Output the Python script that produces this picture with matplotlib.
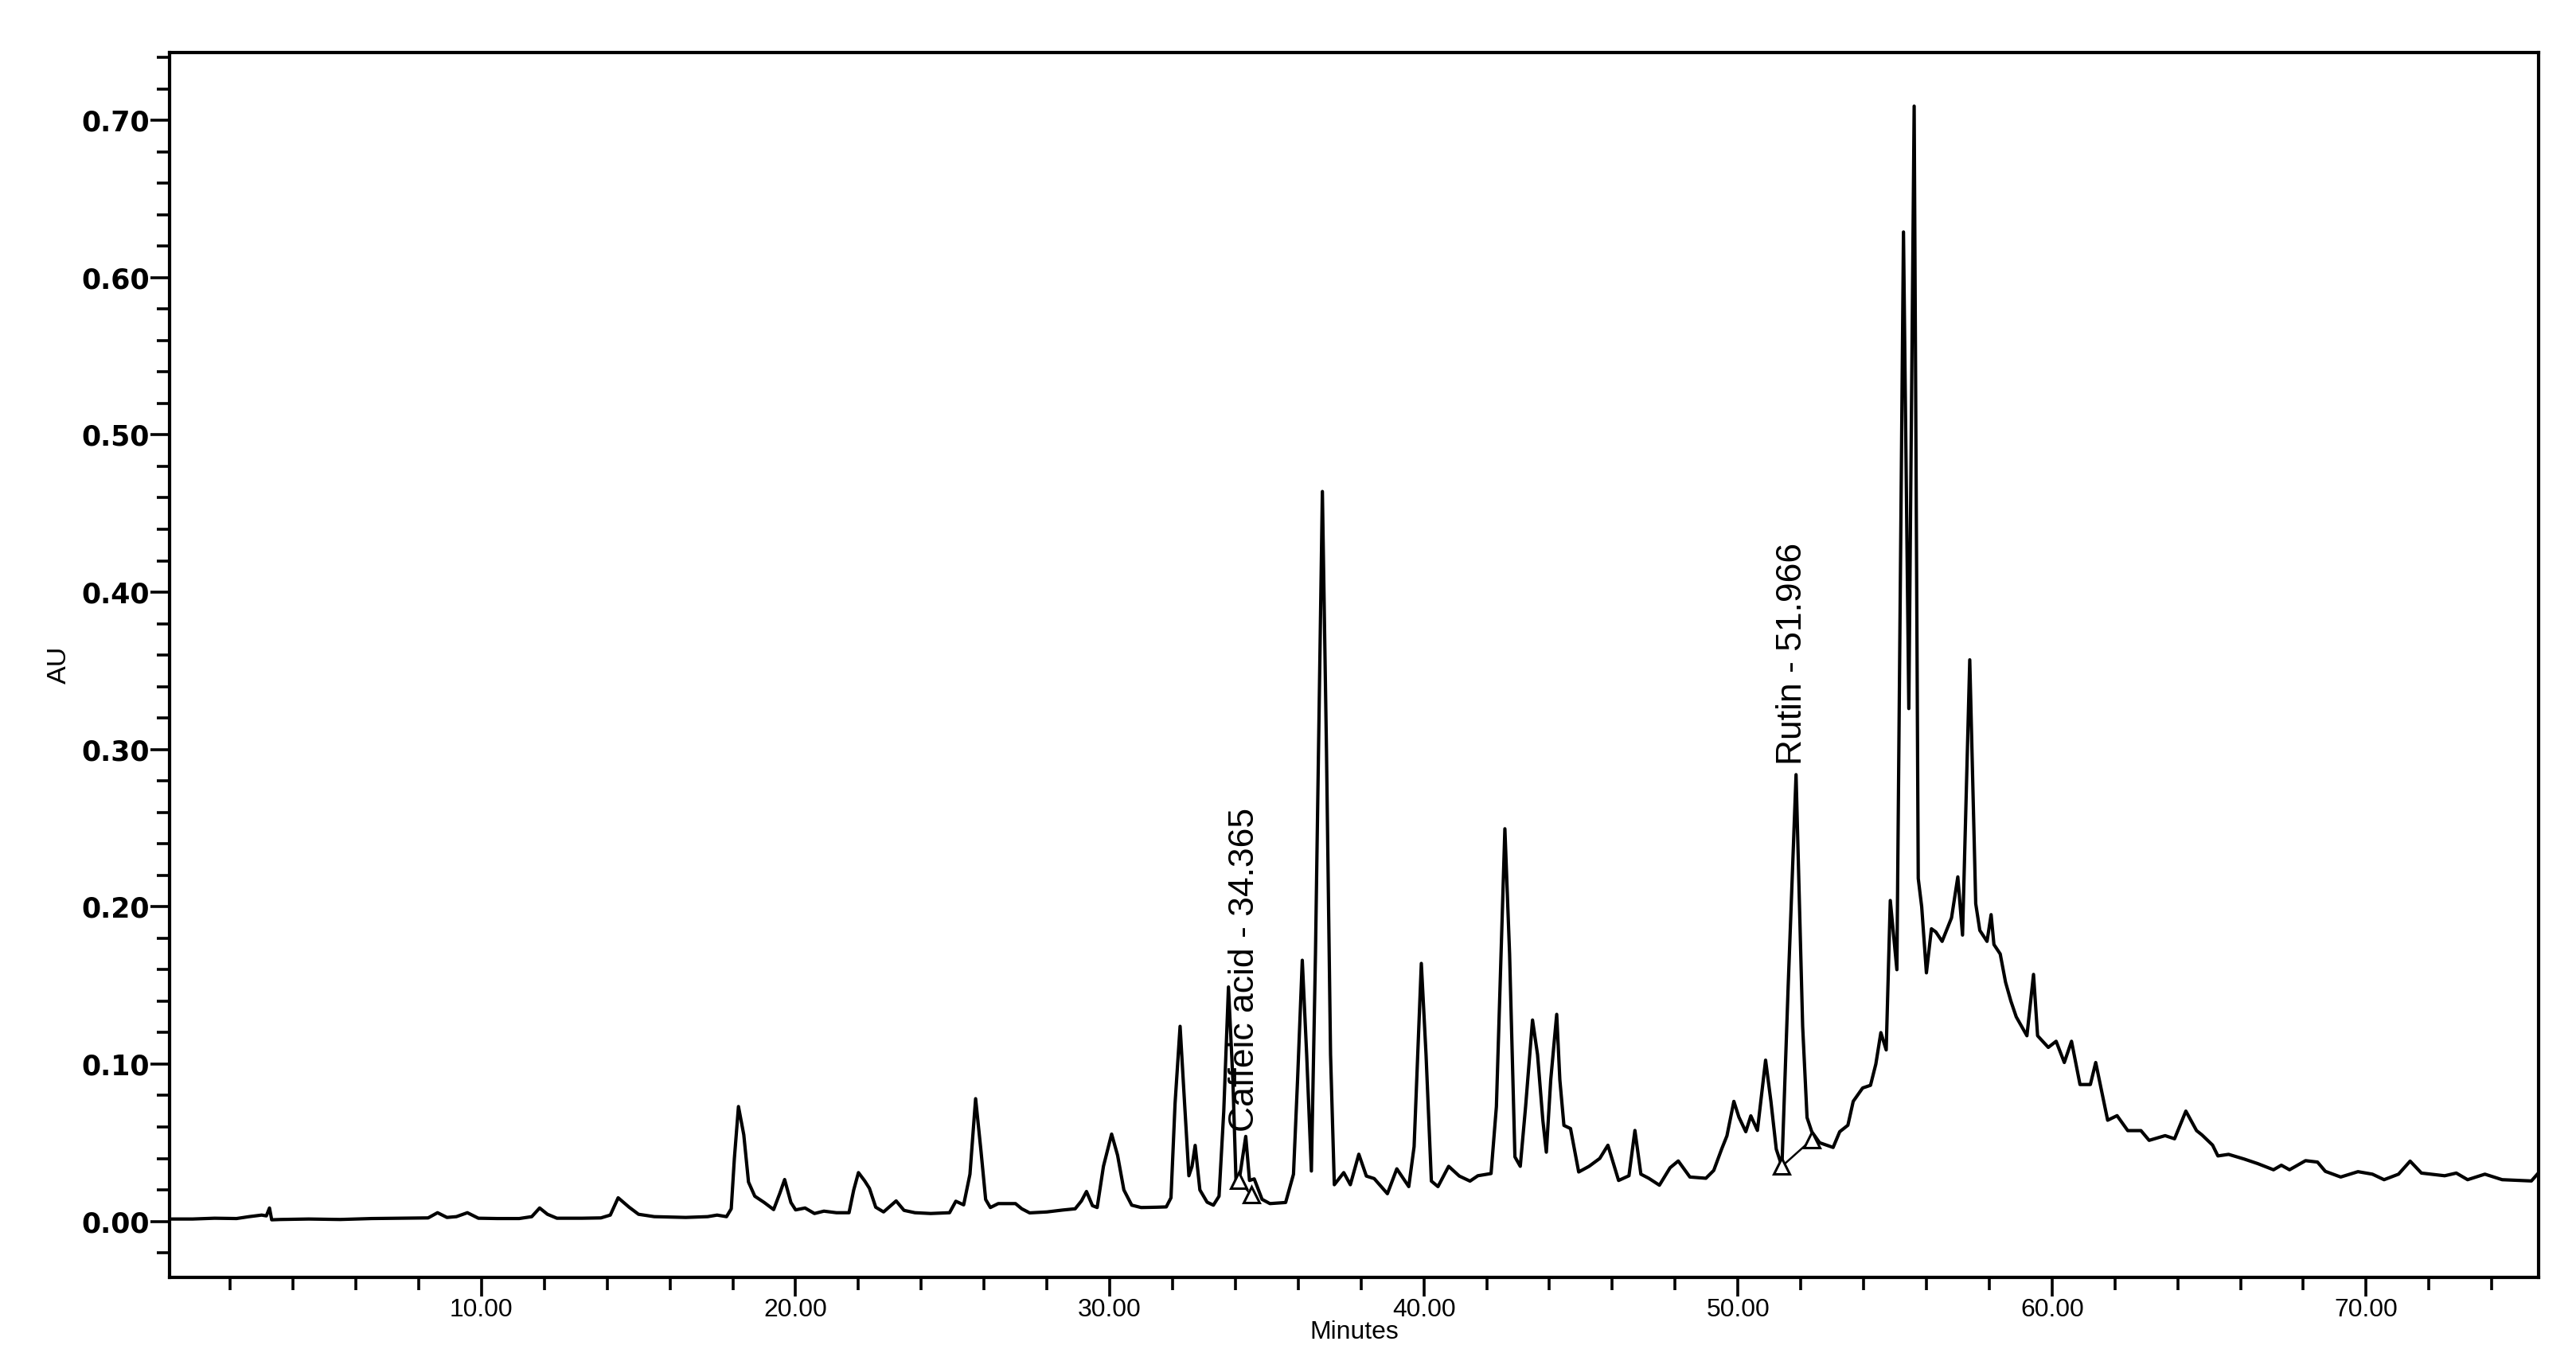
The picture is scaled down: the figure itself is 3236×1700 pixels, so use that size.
import matplotlib
matplotlib.use("Agg")
import matplotlib.pyplot as plt
from matplotlib import font_manager
from matplotlib.ticker import MultipleLocator, FormatStrFormatter

# =========================
# 1. Data
# =========================
retention_time = [
    0.06, 0.8, 1.5, 2.2, 2.6, 3.0, 3.15, 3.25, 3.32, 3.6, 4.5, 5.5, 6.5, 7.5,
    8.3, 8.6, 8.9, 9.2, 9.55, 9.9, 10.5, 11.2, 11.6, 11.85, 12.1, 12.4, 13.2,
    13.8, 14.1, 14.35, 14.7, 15.0, 15.5, 16.5, 17.2, 17.5, 17.8, 17.95, 18.05,
    18.18, 18.35, 18.5, 18.7, 19.0, 19.3, 19.5, 19.65, 19.85, 20.0, 20.3, 20.6,
    20.9, 21.3, 21.7, 21.85, 22.0, 22.2, 22.35, 22.55, 22.8, 23.2, 23.45, 23.8,
    24.3, 24.9, 25.1, 25.35, 25.55, 25.73, 25.9, 26.05, 26.2, 26.45, 27.0, 27.2,
    27.45, 28.0, 28.5, 28.9, 29.1, 29.26, 29.45, 29.6, 29.8, 30.06, 30.25,
    30.45, 30.7, 31.0, 31.5, 31.8, 31.95, 32.08, 32.24, 32.38, 32.52, 32.62,
    32.72, 32.87, 33.1, 33.3, 33.48, 33.63, 33.78, 33.92, 34.02, 34.15, 34.33,
    34.45, 34.6, 34.85, 35.1, 35.6, 35.85, 35.98, 36.13, 36.27, 36.42, 36.55,
    36.77, 36.9, 37.03, 37.15, 37.45, 37.66, 37.93, 38.17, 38.42, 38.84, 39.14,
    39.52, 39.69, 39.92, 40.07, 40.24, 40.45, 40.79, 41.13, 41.47, 41.72, 42.14,
    42.31, 42.58, 42.73, 42.9, 43.07, 43.24, 43.46, 43.62, 43.79, 43.9, 44.04,
    44.23, 44.33, 44.46, 44.67, 44.93, 45.26, 45.6, 45.86, 46.2, 46.53, 46.72,
    46.91, 47.16, 47.5, 47.84, 48.1, 48.47, 48.98, 49.23, 49.48, 49.65, 49.87,
    50.03, 50.25, 50.41, 50.62, 50.88, 51.05, 51.22, 51.4, 51.6, 51.85, 52.06,
    52.2, 52.35, 52.6, 53.03, 53.24, 53.5, 53.67, 53.97, 54.22, 54.39, 54.55,
    54.72, 54.85, 55.06, 55.27, 55.44, 55.61, 55.74, 55.85, 56.0, 56.16, 56.3,
    56.5, 56.8, 57.0, 57.15, 57.38, 57.57, 57.7, 57.93, 58.06, 58.15, 58.35,
    58.52, 58.69, 58.86, 59.2, 59.41, 59.54, 59.88, 60.13, 60.39, 60.62, 60.89,
    61.22, 61.39, 61.77, 62.07, 62.41, 62.83, 63.09, 63.6, 63.9, 64.26, 64.6,
    64.77, 65.11, 65.28, 65.62, 66.12, 66.55, 67.05, 67.3, 67.56, 68.07, 68.45,
    68.7, 69.19, 69.74, 70.2, 70.57, 71.03, 71.4, 71.76, 72.5, 72.87, 73.23,
    73.78, 74.33, 75.26, 75.45,
]

absorbance = [
    0.0015, 0.0015, 0.002, 0.0018, 0.003, 0.004, 0.0035, 0.0085, 0.001, 0.0012,
    0.0015, 0.0012, 0.0018, 0.002, 0.0022, 0.0055, 0.0025, 0.003, 0.0055, 0.002,
    0.0018, 0.0018, 0.003, 0.0085, 0.0045, 0.002, 0.002, 0.0022, 0.004, 0.015,
    0.009, 0.0045, 0.003, 0.0025, 0.003, 0.004, 0.003, 0.008, 0.04, 0.073,
    0.055, 0.025, 0.016, 0.012, 0.0075, 0.018, 0.0266, 0.012, 0.0073, 0.0085,
    0.005, 0.0065, 0.0055, 0.0055, 0.02, 0.031, 0.0257, 0.021, 0.009, 0.006,
    0.013, 0.007, 0.0055, 0.005, 0.0055, 0.0128, 0.0105, 0.03, 0.078, 0.045,
    0.0139, 0.0088, 0.0113, 0.0113, 0.008, 0.0054, 0.006, 0.0072, 0.008, 0.013,
    0.019, 0.01, 0.0088, 0.035, 0.0555, 0.042, 0.02, 0.0103, 0.0088, 0.009,
    0.0092, 0.015, 0.075, 0.124, 0.076, 0.029, 0.035, 0.0483, 0.02, 0.0122,
    0.0103, 0.016, 0.07, 0.149, 0.09, 0.026, 0.03, 0.054, 0.026, 0.027, 0.014,
    0.0113, 0.012, 0.03, 0.09, 0.166, 0.106, 0.032, 0.17, 0.464, 0.30, 0.106,
    0.0233, 0.031, 0.0233, 0.0427, 0.0288, 0.0272, 0.0176, 0.0334, 0.0221,
    0.0475, 0.164, 0.106, 0.0256, 0.0221, 0.035, 0.0288, 0.0256, 0.029, 0.0304,
    0.073, 0.2496, 0.17, 0.041, 0.035, 0.073, 0.128, 0.106, 0.064, 0.044, 0.09,
    0.1316, 0.09, 0.061, 0.059, 0.0314, 0.035, 0.04, 0.0484, 0.026, 0.029,
    0.0578, 0.030, 0.0274, 0.023, 0.0341, 0.0384, 0.0282, 0.0274, 0.0324,
    0.0459, 0.0544, 0.0763, 0.0663, 0.057, 0.0671, 0.0578, 0.1025, 0.0763,
    0.0459, 0.035, 0.15, 0.284, 0.124, 0.066, 0.057, 0.05, 0.047, 0.057, 0.0611,
    0.0763, 0.0848, 0.0865, 0.10, 0.12, 0.109, 0.204, 0.16, 0.629, 0.326, 0.709,
    0.218, 0.20, 0.158, 0.186, 0.184, 0.178, 0.193, 0.219, 0.182, 0.357, 0.202,
    0.185, 0.178, 0.195, 0.176, 0.17, 0.152, 0.14, 0.130, 0.118, 0.157, 0.118,
    0.1106, 0.1145, 0.101, 0.1145, 0.087, 0.087, 0.101, 0.0643, 0.0672, 0.0577,
    0.0577, 0.0515, 0.0545, 0.0525, 0.0701, 0.0577, 0.055, 0.0485, 0.0416,
    0.0426, 0.0396, 0.0367, 0.0328, 0.0357, 0.0328, 0.0386, 0.0377, 0.0318,
    0.0282, 0.0316, 0.030, 0.0265, 0.030, 0.0383, 0.0307, 0.029, 0.0307,
    0.0265, 0.030, 0.0265, 0.0257, 0.030,
]

# integration marks (start / end of each identified peak)
caffeic_marks_t = [34.1, 34.5]
caffeic_marks_au = [0.026, 0.017]
rutin_marks_t = [51.4, 52.35]
rutin_marks_au = [0.035, 0.052]

# peak labels
peak_names = ["Caffeic acid - 34.365", "Rutin - 51.966"]
label_t = [34.29, 51.74]
label_au = [0.057, 0.29]

x_major = [10, 20, 30, 40, 50, 60, 70]

# =========================
# 2. Fonts
# =========================
installed = {f.name for f in font_manager.fontManager.ttflist}
if "Liberation Sans Narrow" in installed:
    narrow = "Liberation Sans Narrow"
    scale = 1.0
else:
    narrow = "Liberation Sans"
    scale = 0.82

# =========================
# 3. Plot
# =========================
fig = plt.figure(figsize=(32.37, 17.0), dpi=100)
ax = fig.add_axes([0.0657, 0.0559, 0.9196, 0.9052])

ax.plot(retention_time, absorbance, color="black", lw=3.0,
        solid_joinstyle="round")

ax.plot(caffeic_marks_t, caffeic_marks_au, color="black", lw=1.8)
ax.plot(rutin_marks_t, rutin_marks_au, color="black", lw=1.8)
ax.plot(caffeic_marks_t + rutin_marks_t, caffeic_marks_au + rutin_marks_au,
        linestyle="none", marker="^", markersize=14, markerfacecolor="white",
        markeredgecolor="black", markeredgewidth=2.2)

for name, t, au in zip(peak_names, label_t, label_au):
    ax.text(t, au, name, rotation=90, ha="center", va="bottom",
            fontsize=39 * scale, family=narrow, color="black")

# axes
ax.set_xlim(0.06, 75.5)
ax.set_ylim(-0.0356, 0.743)

ax.set_xticks(x_major)
ax.xaxis.set_major_formatter(FormatStrFormatter("%.2f"))
ax.xaxis.set_minor_locator(MultipleLocator(2))
ax.yaxis.set_major_locator(MultipleLocator(0.1))
ax.yaxis.set_major_formatter(FormatStrFormatter("%.2f"))
ax.yaxis.set_minor_locator(MultipleLocator(0.02))

ax.tick_params(which="major", length=17, width=2.6, direction="out")
ax.tick_params(which="minor", length=11.5, width=2.6, direction="out")
ax.tick_params(axis="x", which="major", pad=2)
ax.tick_params(axis="y", which="major", pad=1)

for lab in ax.get_xticklabels():
    lab.set_family(narrow)
    lab.set_fontsize(28 * scale)
for lab in ax.get_yticklabels():
    lab.set_family("DejaVu Sans")
    lab.set_fontweight("bold")
    lab.set_fontsize(25)

for spine in ax.spines.values():
    spine.set_linewidth(3.0)
    spine.set_color("black")

ax.set_xlabel("Minutes", family=narrow, fontsize=28 * scale, labelpad=-2)
ax.set_ylabel("AU", family=narrow, fontsize=30 * scale, labelpad=9)

fig.savefig("out.png", dpi=100)
